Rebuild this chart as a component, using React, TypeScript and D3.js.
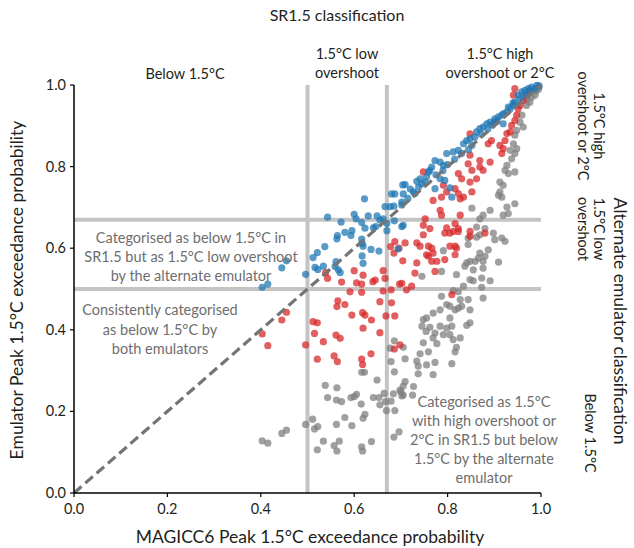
import React from 'react';
import * as d3 from 'd3';

// ---- data (MAGICC6 peak exceedance prob, emulator peak exceedance prob) ----
const bluePoints: [number, number][] = [
  [0.622,0.721],[0.680,0.733],[0.687,0.733],[0.705,0.733],[0.704,0.755],[0.666,0.702],[0.677,0.702],[0.685,0.703],[0.702,0.706],[0.543,0.676],
  [0.600,0.683],[0.604,0.672],[0.616,0.663],[0.572,0.664],[0.630,0.679],[0.649,0.679],[0.655,0.669],[0.662,0.672],[0.670,0.661],[0.686,0.667],
  [0.702,0.653],[0.623,0.649],[0.641,0.650],[0.646,0.653],[0.595,0.643],[0.580,0.639],[0.593,0.631],[0.670,0.643],[0.564,0.631],[0.563,0.623],
  [0.616,0.622],[0.617,0.612],[0.537,0.604],[0.521,0.589],[0.512,0.577],[0.516,0.553],[0.522,0.548],[0.534,0.556],[0.619,0.605],[0.636,0.597],
  [0.653,0.593],[0.694,0.598],[0.617,0.581],[0.619,0.563],[0.561,0.567],[0.559,0.555],[0.566,0.547],[0.570,0.540],[0.455,0.569],[0.445,0.552],
  [0.496,0.536],[0.415,0.512],[0.403,0.504],
  [0.709,0.756],[0.727,0.738],[0.734,0.764],[0.741,0.770],[0.752,0.762],[0.759,0.787],[0.766,0.799],[0.773,0.815],[0.784,0.811],[0.791,0.803],
  [0.798,0.832],[0.812,0.836],[0.823,0.840],[0.834,0.856],[0.841,0.864],[0.848,0.868],[0.852,0.852],[0.862,0.885],[0.869,0.893],[0.876,0.897],
  [0.884,0.905],[0.891,0.909],[0.901,0.917],[0.909,0.922],[0.916,0.926],[0.919,0.905],[0.927,0.934],[0.934,0.942],[0.941,0.950],[0.944,0.958],
  [0.951,0.975],[0.959,0.983],[0.966,0.987],[0.973,0.991],[0.980,0.995],[0.991,0.999],[0.702,0.713],[0.705,0.656],[0.730,0.734],[0.784,0.770],
  [0.794,0.766],[0.805,0.748],[0.809,0.725],[0.773,0.746],[0.762,0.791],
  [0.775,0.780],[0.790,0.790],[0.800,0.805],[0.815,0.818],[0.830,0.832],[0.845,0.842],[0.858,0.872],[0.872,0.880],[0.886,0.892],[0.896,0.902],
  [0.906,0.912],[0.920,0.930],[0.930,0.946],[0.940,0.956],[0.955,0.966],[0.965,0.976],[0.976,0.984],[0.986,0.990],[0.996,0.998],[0.755,0.775],
  [0.745,0.758],[0.720,0.745],[0.715,0.722],[0.738,0.750],
];

const redPoints: [number, number][] = [
  [0.687,0.616],[0.678,0.604],[0.685,0.588],[0.696,0.600],[0.704,0.569],[0.600,0.545],[0.619,0.534],[0.640,0.518],[0.645,0.522],[0.662,0.545],
  [0.666,0.526],[0.539,0.540],[0.543,0.526],[0.573,0.517],[0.605,0.515],[0.616,0.512],[0.591,0.493],[0.616,0.492],[0.662,0.495],[0.679,0.498],
  [0.697,0.512],[0.702,0.514],[0.565,0.471],[0.563,0.457],[0.580,0.462],[0.655,0.469],[0.680,0.466],[0.455,0.443],[0.445,0.424],[0.595,0.436],
  [0.618,0.442],[0.623,0.436],[0.668,0.434],[0.687,0.434],[0.512,0.420],[0.521,0.417],[0.515,0.391],[0.561,0.387],[0.570,0.379],[0.655,0.393],
  [0.403,0.390],[0.637,0.424],[0.619,0.404],
  [0.748,0.787],[0.769,0.717],[0.784,0.693],[0.787,0.681],[0.752,0.672],[0.748,0.656],[0.762,0.648],[0.791,0.754],[0.787,0.725],[0.798,0.738],
  [0.816,0.746],[0.823,0.734],[0.827,0.721],[0.834,0.725],[0.823,0.783],[0.830,0.770],[0.844,0.807],[0.852,0.791],[0.848,0.828],[0.848,0.762],
  [0.852,0.738],[0.862,0.770],[0.869,0.799],[0.876,0.791],[0.869,0.815],[0.887,0.856],[0.894,0.864],[0.891,0.811],[0.912,0.852],[0.919,0.844],
  [0.923,0.864],[0.916,0.832],[0.927,0.881],[0.934,0.885],[0.937,0.901],[0.944,0.913],[0.948,0.926],[0.951,0.942],[0.955,0.950],[0.962,0.962],
  [0.969,0.975],[0.976,0.987],[0.941,0.975],[0.944,0.991],[0.816,0.660],[0.827,0.681],[0.823,0.648],[0.848,0.880],[0.901,0.909],
  [0.709,0.613],[0.734,0.613],[0.741,0.605],[0.748,0.633],[0.759,0.605],[0.766,0.600],[0.769,0.588],[0.759,0.580],[0.766,0.568],[0.777,0.568],
  [0.755,0.584],[0.794,0.637],[0.805,0.637],[0.812,0.641],[0.823,0.641],[0.798,0.650],[0.805,0.605],[0.816,0.605],[0.819,0.600],[0.794,0.572],
  [0.816,0.584],[0.848,0.641],[0.848,0.629],[0.880,0.637],[0.734,0.564],[0.730,0.539],[0.773,0.543],[0.712,0.498],[0.723,0.507],[0.809,0.486],
  [0.698,0.363],[0.415,0.361],[0.496,0.363],[0.534,0.371],[0.521,0.328],[0.557,0.336],[0.564,0.322],[0.616,0.328],[0.618,0.315],[0.636,0.341],
  [0.686,0.353],
];

const grayPoints: [number, number][] = [
  [0.987,0.975],[0.976,0.958],[0.969,0.950],[0.959,0.926],[0.955,0.909],[0.962,0.897],[0.948,0.889],[0.944,0.877],[0.941,0.856],[0.948,0.844],
  [0.934,0.840],[0.944,0.832],[0.937,0.819],[0.927,0.803],[0.923,0.791],[0.930,0.783],[0.944,0.787],[0.912,0.762],[0.909,0.730],[0.916,0.725],
  [0.919,0.754],[0.912,0.738],[0.927,0.701],[0.944,0.709],[0.930,0.685],[0.919,0.681],[0.891,0.693],[0.876,0.681],[0.869,0.672],[0.862,0.652],
  [0.852,0.698],[0.880,0.648],[0.995,0.995],[0.990,0.985],[0.980,0.970],[0.970,0.965],[0.995,0.990],
  [0.844,0.625],[0.862,0.627],[0.869,0.633],[0.898,0.637],[0.901,0.621],[0.916,0.625],[0.923,0.617],[0.844,0.609],[0.791,0.594],[0.869,0.588],
  [0.887,0.596],[0.880,0.580],[0.866,0.576],[0.848,0.568],[0.841,0.564],[0.837,0.556],[0.859,0.568],[0.876,0.568],[0.876,0.551],[0.855,0.547],
  [0.873,0.527],[0.909,0.566],[0.787,0.543],[0.745,0.531],[0.819,0.535],[0.848,0.523],[0.855,0.520],[0.891,0.520],[0.834,0.507],[0.873,0.504],
  [0.812,0.496],[0.823,0.493],[0.787,0.482],[0.827,0.474],[0.844,0.474],[0.876,0.478],[0.798,0.462],[0.805,0.458],[0.784,0.449],[0.816,0.449],
  [0.823,0.453],[0.830,0.458],[0.848,0.449],[0.769,0.441],[0.805,0.429],[0.748,0.425],[0.755,0.429],[0.745,0.409],[0.762,0.406],[0.784,0.409],
  [0.798,0.404],[0.809,0.409],[0.841,0.411],[0.848,0.417],[0.754,0.396],[0.773,0.392],[0.791,0.388],[0.805,0.388],[0.769,0.380],[0.812,0.376],
  [0.827,0.380],[0.748,0.368],[0.777,0.366],[0.819,0.357],[0.759,0.346],[0.741,0.341],[0.816,0.346],[0.709,0.329],[0.734,0.323],[0.773,0.320],
  [0.809,0.317],[0.755,0.314],[0.737,0.311],[0.705,0.357],[0.737,0.292],[0.769,0.290],
  [0.686,0.373],[0.677,0.355],[0.679,0.322],[0.686,0.297],[0.616,0.296],[0.622,0.296],[0.649,0.277],[0.538,0.264],[0.563,0.258],[0.543,0.234],
  [0.562,0.228],[0.573,0.224],[0.593,0.234],[0.600,0.236],[0.605,0.242],[0.615,0.218],[0.641,0.234],[0.653,0.234],[0.664,0.244],[0.667,0.224],
  [0.679,0.225],[0.684,0.243],[0.700,0.248],[0.702,0.238],[0.655,0.216],[0.669,0.202],[0.687,0.202],[0.623,0.193],[0.619,0.183],[0.595,0.165],
  [0.580,0.185],[0.562,0.168],[0.511,0.181],[0.522,0.163],[0.515,0.157],[0.496,0.168],[0.455,0.154],[0.445,0.146],[0.403,0.128],[0.415,0.122],
  [0.534,0.127],[0.568,0.127],[0.557,0.116],[0.563,0.103],[0.521,0.106],[0.616,0.113],[0.618,0.103],[0.637,0.126],[0.685,0.137],[0.696,0.150],
  [0.709,0.273],[0.705,0.262],[0.727,0.261],[0.698,0.252],[0.705,0.240],[0.725,0.240],
];

const tickValues = [0, 0.2, 0.4, 0.6, 0.8, 1.0];
const thresholds = [0.5, 0.67];

const FONT = "Lato, 'Open Sans', sans-serif";
const TEXT_GRAY = '#6e6e6e';

export default function App() {
  const x = d3.scaleLinear().domain([0, 1]).range([74, 541]);
  const y = d3.scaleLinear().domain([0, 1]).range([493, 85]);
  const fmt = d3.format('.1f');
  const diag = d3.line<number>().x((d) => x(d)).y((d) => y(d))([0, 1]) || '';

  const dots = (pts: [number, number][], color: string) =>
    pts.map((p, i) => (
      <circle key={color + i} cx={x(p[0])} cy={y(p[1])} r={3.6} fill={color} fillOpacity={0.74} />
    ));

  return (
    <svg width={634} height={548} style={{ position: 'absolute', left: 0, top: 0, background: '#fff' }} fontFamily={FONT} fill="#231f20">
      {/* threshold gridlines */}
      {thresholds.map((t) => (
        <line key={'v' + t} x1={x(t)} x2={x(t)} y1={y(0)} y2={y(1)} stroke="#c4c4c4" strokeWidth={4} />
      ))}
      {thresholds.map((t) => (
        <line key={'h' + t} x1={x(0)} x2={x(1)} y1={y(t)} y2={y(t)} stroke="#c4c4c4" strokeWidth={4} />
      ))}

      {/* points */}
      {dots(grayPoints, '#7f7f7f')}
      {dots(redPoints, '#d62728')}
      {dots(bluePoints, '#1f77b4')}

      {/* 1:1 line */}
      <path d={diag} stroke="#747474" strokeWidth={3.2} strokeDasharray="10,5" fill="none" />

      {/* axes */}
      <line x1={x(0)} x2={x(1)} y1={y(0)} y2={y(0)} stroke="#000" strokeWidth={1.5} />
      <line x1={x(0)} x2={x(0)} y1={y(0)} y2={y(1)} stroke="#000" strokeWidth={1.5} />
      {tickValues.map((t) => (
        <g key={'xt' + t}>
          <line x1={x(t)} x2={x(t)} y1={y(0)} y2={y(0) + 4} stroke="#000" strokeWidth={1.2} />
          <text x={x(t)} y={y(0) + 21} textAnchor="middle" fontSize={14.5}>{fmt(t)}</text>
        </g>
      ))}
      {tickValues.map((t) => (
        <g key={'yt' + t}>
          <line x1={x(0) - 4} x2={x(0)} y1={y(t)} y2={y(t)} stroke="#000" strokeWidth={1.2} />
          <text x={x(0) - 8} y={y(t) + 5} textAnchor="end" fontSize={14.5}>{fmt(t)}</text>
        </g>
      ))}

      {/* axis titles */}
      <text x={310} y={543} textAnchor="middle" fontSize={17.5}>MAGICC6 Peak 1.5°C exceedance probability</text>
      <text transform="translate(23,290) rotate(-90)" textAnchor="middle" fontSize={17.5}>Emulator Peak 1.5°C exceedance probability</text>

      {/* top classification */}
      <text x={337} y={21} textAnchor="middle" fontSize={16}>SR1.5 classification</text>
      <text x={185} y={79} textAnchor="middle" fontSize={14.5}>Below 1.5°C</text>
      <text x={347} y={59} textAnchor="middle" fontSize={14.5}>1.5°C low</text>
      <text x={347} y={78} textAnchor="middle" fontSize={14.5}>overshoot</text>
      <text x={500} y={59} textAnchor="middle" fontSize={14.5}>1.5°C high</text>
      <text x={500} y={78} textAnchor="middle" fontSize={14.5}>overshoot or 2°C</text>

      {/* right classification */}
      <text transform="translate(614,321) rotate(90)" textAnchor="middle" fontSize={17.5}>Alternate emulator classification</text>
      <text transform="translate(594,126) rotate(90)" textAnchor="middle" fontSize={14.5}>1.5°C high</text>
      <text transform="translate(578,126) rotate(90)" textAnchor="middle" fontSize={14.5}>overshoot or 2°C</text>
      <text transform="translate(594,229) rotate(90)" textAnchor="middle" fontSize={14.5}>1.5°C low</text>
      <text transform="translate(578,229) rotate(90)" textAnchor="middle" fontSize={14.5}>overshoot</text>
      <text transform="translate(585,433) rotate(90)" textAnchor="middle" fontSize={14.5}>Below 1.5°C</text>

      {/* annotations */}
      <g fill={TEXT_GRAY} fontSize={14.5} textAnchor="middle">
        <text x={191} y={243}>Categorised as below 1.5°C in</text>
        <text x={191} y={262}>SR1.5 but as 1.5°C low overshoot</text>
        <text x={191} y={281}>by the alternate emulator</text>
        <text x={160} y={315}>Consistently categorised</text>
        <text x={160} y={335}>as below 1.5°C by</text>
        <text x={160} y={354}>both emulators</text>
        <text x={484} y={407}>Categorised as 1.5°C</text>
        <text x={484} y={426}>with high overshoot or</text>
        <text x={484} y={445}>2°C in SR1.5 but below</text>
        <text x={484} y={464}>1.5°C by the alternate</text>
        <text x={484} y={483}>emulator</text>
      </g>
    </svg>
  );
}
